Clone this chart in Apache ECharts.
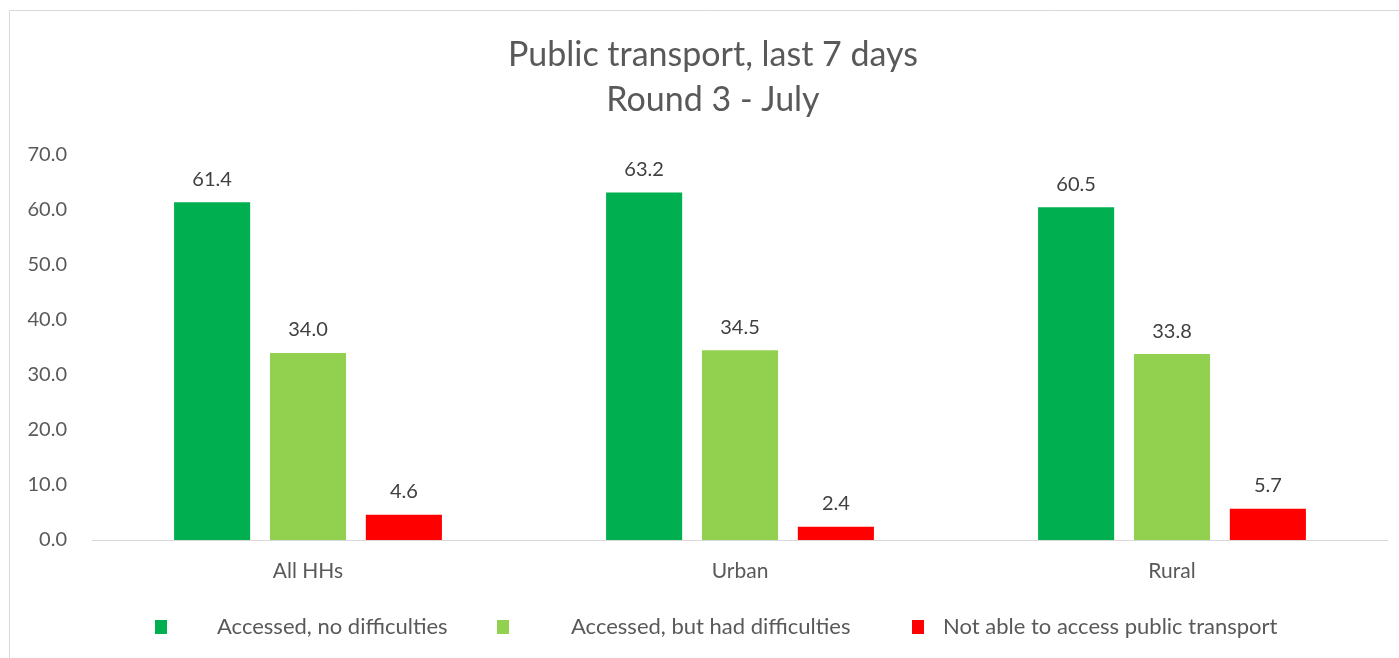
<!DOCTYPE html>
<html><head><meta charset="utf-8">
<script src="https://cdn.jsdelivr.net/npm/echarts@6/dist/echarts.min.js"></script>
<style>html,body{margin:0;padding:0;background:#fff}#c{width:1399px;height:658px}</style>
</head><body><div id="c"></div>
<script>
const categories = ["All HHs", "Urban", "Rural"];
const seriesNames = ["Accessed, no difficulties", "Accessed, but had difficulties", "Not able to access public transport"];
const noDifficulties = [61.4, 63.2, 60.5];
const hadDifficulties = [34.0, 34.5, 33.8];
const notAble = [4.6, 2.4, 5.7];
const colors = ["#00B050", "#92D050", "#FF0000"];
const FONT = "Lato, 'Open Sans', sans-serif";
const chart = echarts.init(document.getElementById('c'));
const values = [noDifficulties, hadDifficulties, notAble];
const legendPos = [{left:150, pad:45},{left:492, pad:57},{left:907, pad:14}];
chart.setOption({
  animation:false,
  textStyle:{fontFamily:FONT},
  graphic:[{type:'rect',shape:{x:9.5,y:10.5,width:1400,height:660},style:{fill:'none',stroke:'#d9d9d9',lineWidth:1}}],
  title:{text:"Public transport, last 7 days\nRound 3 - July",left:708,textAlign:'center',top:28,
    textStyle:{fontFamily:FONT,fontSize:34,fontWeight:'normal',color:'#595959',lineHeight:45}},
  legend: legendPos.map((p,i)=>({data:[seriesNames[i]],left:p.left,top:611,itemWidth:12,itemHeight:14,icon:'rect',
    textStyle:{fontFamily:FONT,fontSize:22,color:'#595959',padding:[0,0,0,p.pad]}})),
  grid:{left:92,right:11,top:155,bottom:118},
  xAxis:{type:'category',data:categories,axisLine:{lineStyle:{color:'#d9d9d9'}},axisTick:{show:false},
    axisLabel:{fontFamily:FONT,fontSize:21,color:'#595959',margin:21}},
  yAxis:{type:'value',min:0,max:70,interval:10,splitLine:{show:false},axisLine:{show:false},axisTick:{show:false},
    axisLabel:{fontFamily:FONT,fontSize:20,color:'#595959',margin:25,formatter:v=>v.toFixed(1)}},
  series: values.map((v,i)=>({type:'bar',name:seriesNames[i],data:v,barGap:'26%',barCategoryGap:'38%',
    itemStyle:{color:colors[i]},
    label:{show:true,position:'top',distance:13,fontFamily:FONT,fontSize:20,color:'#404040',formatter:p=>p.value.toFixed(1)}}))
});
</script></body></html>
